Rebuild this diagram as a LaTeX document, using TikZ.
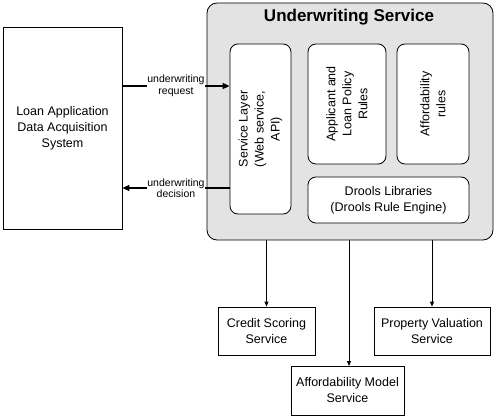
\documentclass[tikz,border=0pt]{standalone}
\usepackage{fontspec}
\setmainfont{Liberation Sans}
\usetikzlibrary{arrows.meta,calc}
\begin{document}
\begin{tikzpicture}[x=1pt,y=-1pt,
  every node/.style={font=\fontsize{12.5}{16}\selectfont, align=center},
  plainbox/.style={draw=black, line width=0.8pt, fill=white, inner sep=0pt},
  roundbox/.style={draw=black, line width=0.8pt, fill=white, rounded corners=8pt, inner sep=0pt},
  outerbox/.style={draw=black, line width=0.8pt, fill=black!11, rounded corners=10pt, inner sep=0pt},
  flowlabel/.style={font=\fontsize{10.5}{11.5}\selectfont, fill=white, inner sep=0.5pt},
  thickflow/.style={line width=2.6pt, -{Triangle[length=7pt,width=6pt]}},
  callflow/.style={line width=0.8pt, -{Triangle[length=5pt,width=4pt]}}
]
\useasboundingbox (0,0) rectangle (496,417);

\node[plainbox, minimum width=119, minimum height=202] (loan) at (62.5,128)
  {Loan Application\\Data Acquisition\\System};

\node[outerbox, minimum width=286, minimum height=237] (uw) at (350,121.5) {};
\node[font=\fontsize{17}{20}\selectfont\bfseries] (title) at (349,17) {Underwriting Service};

\node[roundbox, minimum width=61, minimum height=170] (svc) at (260.5,129) {};
\node[rotate=90] (svct) at (svc.center) {Service Layer\\(Web service,\\API)};

\node[roundbox, minimum width=78, minimum height=120] (app) at (347,104) {};
\node[rotate=90] (appt) at (app.center) {Applicant and\\Loan Policy\\Rules};

\node[roundbox, minimum width=72, minimum height=120] (aff) at (433,104) {};
\node[rotate=90] (afft) at (aff.center) {Affordability\\rules};

\node[roundbox, minimum width=161, minimum height=46] (drools) at (388.5,200)
  {Drools Libraries\\(Drools Rule Engine)};

\node[plainbox, minimum width=97, minimum height=48] (credit) at (266.5,331)
  {Credit Scoring\\Service};
\node[plainbox, minimum width=116, minimum height=48] (prop) at (432,331)
  {Property Valuation\\Service};
\node[plainbox, minimum width=113, minimum height=49] (afm) at (347.5,390.5)
  {Affordability Model\\Service};

% request / decision
\draw[thickflow] (loan.east |- 0,86) -- (svc.west |- 0,86);
\draw[thickflow] (svc.west |- 0,188) -- (loan.east |- 0,188);
\node[flowlabel] (req) at (176,86) {underwriting\\request};
\node[flowlabel] (dec) at (176,188) {underwriting\\decision};

% calls
\draw[callflow] (credit.north |- uw.south) -- (credit.north);
\coordinate (afmtop) at (349,366);
\draw[callflow] (afmtop |- uw.south) -- (afmtop);
\draw[callflow] (prop.north |- uw.south) -- (prop.north);
\end{tikzpicture}
\end{document}
